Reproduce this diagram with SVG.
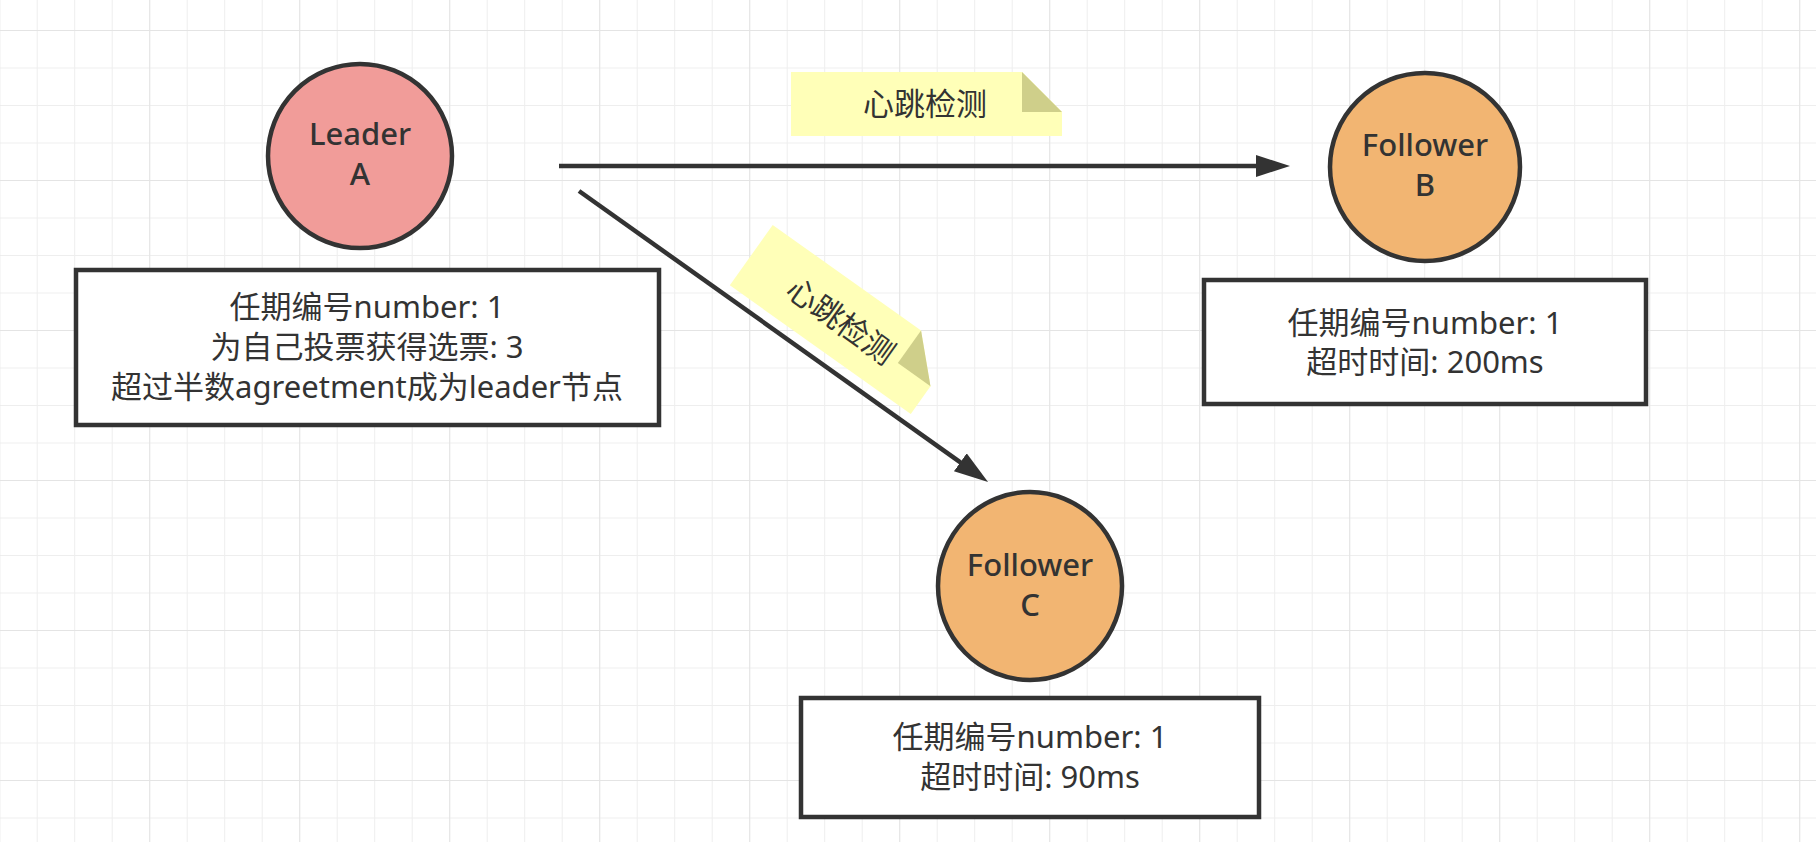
<svg xmlns="http://www.w3.org/2000/svg" width="1816" height="842" viewBox="0 0 1816 842">
  <style>
    .lbl { font-family: "Noto Sans", "Noto Sans CJK SC", sans-serif; fill: #333333; text-anchor: middle; }
    .node { font-size: 31px; font-weight: 500; }
    .txt { font-size: 31px; }
    .shape { stroke: #333333; stroke-width: 4.5; }
    .leader { fill: #F19C99; }
    .follower { fill: #F2B572; }
    .box { fill: #ffffff; }
    .note { fill: #FFFFB8; }
    .fold { fill: #CFCF8A; }
    .conn { stroke: #333333; stroke-width: 4.5; fill: none; marker-end: url(#arrow); }
  </style>
  <defs>
    <pattern id="gridMinor" x="-0.8" y="-7.5" width="37.5" height="37.5" patternUnits="userSpaceOnUse">
      <path d="M0 0 H37.5 M0 0 V37.5" stroke="#EEEEEE" stroke-width="2" fill="none"/>
    </pattern>
    <pattern id="gridMajor" x="-0.8" y="30" width="150" height="150" patternUnits="userSpaceOnUse">
      <path d="M0 0 H150 M0 0 V150" stroke="#E4E4E4" stroke-width="2" fill="none"/>
    </pattern>
    <marker id="arrow" markerUnits="userSpaceOnUse" markerWidth="36" markerHeight="24" refX="4" refY="11" orient="auto">
      <path d="M0 0 L34 11 L0 22 Z" fill="#333333"/>
    </marker>
  </defs>

  <rect x="0" y="0" width="1816" height="842" fill="#ffffff"/>
  <rect x="0" y="0" width="1816" height="842" fill="url(#gridMinor)"/>
  <rect x="0" y="0" width="1816" height="842" fill="url(#gridMajor)"/>

  <g id="connectors">
    <line class="conn" x1="559" y1="166" x2="1260" y2="166"/>
    <line class="conn" x1="579" y1="191" x2="963.6" y2="464.6"/>
  </g>

  <g id="note-heartbeat-1">
    <polygon class="note" points="791,72 1022,72 1062,112 1062,136 791,136"/>
    <polygon class="fold" points="1022,72 1062,112 1022,112"/>
    <text class="lbl txt" x="925" y="115">心跳检测</text>
  </g>

  <g id="note-heartbeat-2" transform="translate(772.7,225) rotate(35.4)">
    <polygon class="note" points="0,0 182,0 222,40 222,74 0,74"/>
    <polygon class="fold" points="182,0 222,40 182,40"/>
    <text class="lbl txt" x="111" y="50">心跳检测</text>
  </g>

  <g id="leader-a">
    <ellipse class="shape leader" cx="360" cy="156" rx="92" ry="92"/>
    <text class="lbl node" x="360" y="145">Leader</text>
    <text class="lbl node" x="360" y="185">A</text>
  </g>

  <g id="leader-a-info">
    <rect class="shape box" x="76" y="270" width="583" height="155"/>
    <text class="lbl txt" x="367" y="318">任期编号number: 1</text>
    <text class="lbl txt" x="367" y="358">为自己投票获得选票: 3</text>
    <text class="lbl txt" x="367" y="398">超过半数agreetment成为leader节点</text>
  </g>

  <g id="follower-b">
    <ellipse class="shape follower" cx="1425" cy="167" rx="95" ry="94"/>
    <text class="lbl node" x="1425" y="156">Follower</text>
    <text class="lbl node" x="1425" y="196">B</text>
  </g>

  <g id="follower-b-info">
    <rect class="shape box" x="1204" y="280" width="442" height="124"/>
    <text class="lbl txt" x="1425" y="334">任期编号number: 1</text>
    <text class="lbl txt" x="1425" y="373">超时时间: 200ms</text>
  </g>

  <g id="follower-c">
    <ellipse class="shape follower" cx="1030" cy="586" rx="92" ry="94"/>
    <text class="lbl node" x="1030" y="576">Follower</text>
    <text class="lbl node" x="1030" y="616">C</text>
  </g>

  <g id="follower-c-info">
    <rect class="shape box" x="801" y="698" width="458" height="119"/>
    <text class="lbl txt" x="1030" y="748">任期编号number: 1</text>
    <text class="lbl txt" x="1030" y="788">超时时间: 90ms</text>
  </g>
</svg>
